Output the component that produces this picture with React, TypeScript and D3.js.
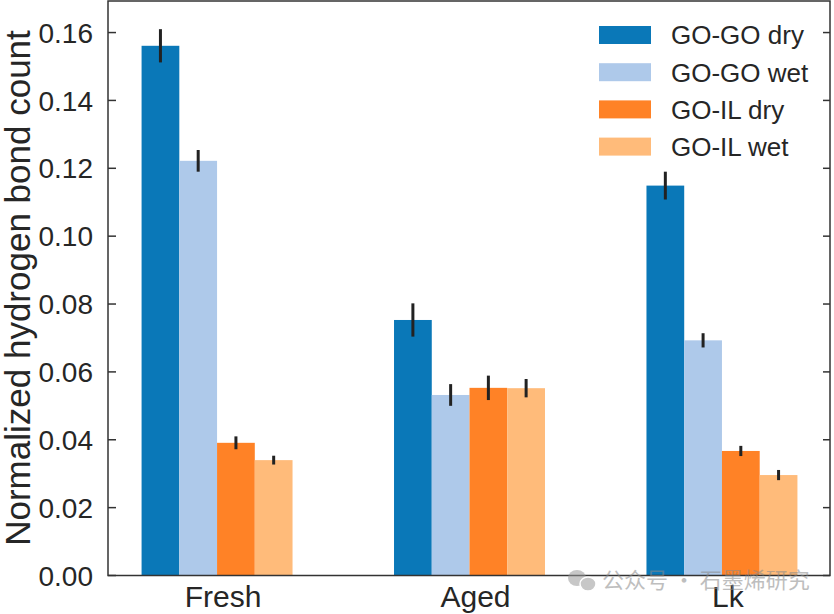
import React from "react";
import * as d3 from "d3";

const categories = ["Fresh", "Aged", "Lk"];
const seriesNames = ["GO-GO dry", "GO-GO wet", "GO-IL dry", "GO-IL wet"];
const goGoDry = [0.1561, 0.0753, 0.1149];
const goGoWet = [0.1222, 0.0532, 0.0693];
const goIlDry = [0.0391, 0.0553, 0.0367];
const goIlWet = [0.034, 0.0552, 0.0296];
const goGoDryErr = [0.0049, 0.0049, 0.0041];
const goGoWetErr = [0.0032, 0.0032, 0.0021];
const goIlDryErr = [0.0019, 0.0036, 0.0015];
const goIlWetErr = [0.0013, 0.0027, 0.0015];
const yTicks = [0, 0.02, 0.04, 0.06, 0.08, 0.1, 0.12, 0.14, 0.16];
const colors = ["#0a78b8", "#aec9ea", "#ff8226", "#ffbb7a"];

const values = [goGoDry, goGoWet, goIlDry, goIlWet];
const errors = [goGoDryErr, goGoWetErr, goIlDryErr, goIlWetErr];

const W = 834;
const H = 614;
const left = 108;
const right = 830;
const top = 1;
const bottom = 575.5;
const font = "'Liberation Sans', Arial, Helvetica, sans-serif";

export default function App() {
  const x = d3.scaleLinear().domain([-0.432, 2.428]).range([left, right]);
  const y = d3.scaleLinear().domain([0, 0.1693]).range([bottom, top]);
  const bw = 0.1495;
  const pxW = x(bw) - x(0);

  return (
    <svg
      width={W}
      height={H}
      style={{ position: "absolute", left: 0, top: 0, background: "#fff" }}
      fontFamily={font}
    >
      <rect x={0} y={0} width={W} height={H} fill="#fff" />
      {values.map((vals, s) =>
        vals.map((v, i) => {
          const cx = x(i + (s - 1.5) * bw);
          return (
            <g key={`${s}-${i}`}>
              <rect
                x={cx - pxW / 2}
                y={y(v)}
                width={pxW}
                height={y(0) - y(v)}
                fill={colors[s]}
              />
              <line
                x1={cx}
                x2={cx}
                y1={y(v + errors[s][i])}
                y2={y(v - errors[s][i])}
                stroke="#222"
                strokeWidth={3}
              />
            </g>
          );
        })
      )}
      {/* frame */}
      <rect
        x={left}
        y={top}
        width={right - left}
        height={bottom - top}
        fill="none"
        stroke="#333"
        strokeWidth={1.5}
      />
      {yTicks.map((t) => (
        <g key={t}>
          <line x1={left} x2={left + 8} y1={y(t)} y2={y(t)} stroke="#333" strokeWidth={1.5} />
          <line x1={right - 7} x2={right} y1={y(t)} y2={y(t)} stroke="#333" strokeWidth={1.5} />
          <text
            x={left - 15}
            y={y(t)}
            dy="0.36em"
            textAnchor="end"
            fontSize={28}
            fill="#262626"
          >
            {t.toFixed(2)}
          </text>
        </g>
      ))}
      {categories.map((c, i) => (
        <text key={c} x={x(i) + 6} y={607} textAnchor="middle" fontSize={30} fill="#262626">
          {c}
        </text>
      ))}
      <text
        transform={`translate(30, ${288}) rotate(-90)`}
        textAnchor="middle"
        fontSize={35}
        fill="#262626"
      >
        Normalized hydrogen bond count
      </text>
      {seriesNames.map((n, s) => {
        const cy = 35 + s * 37.2;
        return (
          <g key={n}>
            <rect x={599} y={cy - 9} width={52} height={18} fill={colors[s]} />
            <text x={671} y={cy} dy="0.36em" fontSize={26} fill="#262626">
              {n}
            </text>
          </g>
        );
      })}
      {/* watermark */}
      <g opacity={0.55}>
        <ellipse cx={577} cy={578} rx={9} ry={8} fill="#9a9a9a" />
        <ellipse cx={588} cy={584} rx={8} ry={7} fill="#9a9a9a" stroke="#fff" strokeWidth={1.5} />
        <text x={602} y={588} fontSize={22} fill="#8a8a8a" fontFamily="'Noto Sans CJK SC', sans-serif">
          公众号 · 石墨烯研究
        </text>
      </g>
    </svg>
  );
}
